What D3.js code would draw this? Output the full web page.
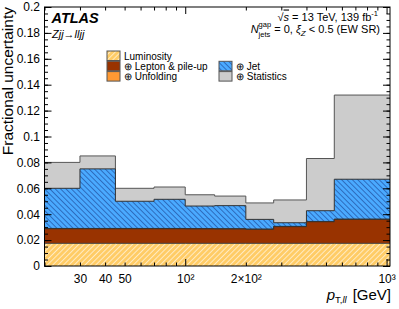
<!DOCTYPE html>
<html>
<head>
<meta charset="utf-8">
<script src="https://cdn.jsdelivr.net/npm/d3@7"></script>
<style>
  body { margin: 0; background: #fff; }
  svg { display: block; font-family: "Liberation Sans", Arial, sans-serif; }
  text { white-space: pre; }
</style>
</head>
<body>
<div id="chart"></div>
<script>
// bin edges in pT,ll [GeV]
const binEdges = [20, 30, 45, 70, 100, 140, 200, 275, 400, 550, 1040];

// cumulative (quadrature-summed) fractional uncertainty per bin
const luminosity = [0.0175, 0.0175, 0.0175, 0.0175, 0.0175, 0.0175, 0.0175, 0.0175, 0.0175, 0.0175];
const leptonPileup = [0.0288, 0.0288, 0.0288, 0.0288, 0.0287, 0.0286, 0.0283, 0.0304, 0.0342, 0.0360];
const unfolding = [0.0290, 0.0290, 0.0290, 0.0290, 0.0289, 0.0288, 0.0285, 0.0306, 0.0344, 0.0362];
const jet = [0.060, 0.075, 0.050, 0.0515, 0.0463, 0.0466, 0.036, 0.0334, 0.0427, 0.067];
const statistics = [0.080, 0.085, 0.060, 0.061, 0.055, 0.054, 0.0487, 0.051, 0.083, 0.132];

const yTicks = [0, 0.02, 0.04, 0.06, 0.08, 0.1, 0.12, 0.14, 0.16, 0.18, 0.2];
const yTickLabels = ["0", "0.02", "0.04", "0.06", "0.08", "0.1", "0.12", "0.14", "0.16", "0.18", "0.2"];
const xTicks = [30, 40, 50, 100, 200, 1000];
const xTickLabels = ["30", "40", "50", "10\u00B2", "2\u00D710\u00B2", "10\u00B3"];

const width = 399;
const height = 309;
const margin = { top: 7, right: 9, bottom: 43, left: 44.5 };

const svg = d3.select('#chart')
    .append('svg')
    .attr('width', width)
    .attr('height', height);

const defs = svg.append('defs');

// hatch patterns
const lumiPat = defs.append('pattern')
    .attr('id', 'lumiHatch')
    .attr('patternUnits', 'userSpaceOnUse')
    .attr('width', 3.8).attr('height', 3.8)
    .attr('patternTransform', 'rotate(45)');
lumiPat.append('rect').attr('width', 3.8).attr('height', 3.8).attr('fill', '#ffcc66');
lumiPat.append('line').attr('x1', 0.5).attr('y1', 0).attr('x2', 0.5).attr('y2', 3.8)
    .attr('stroke', '#fff').attr('stroke-width', 0.8).attr('stroke-opacity', 0.75);

const jetPat = defs.append('pattern')
    .attr('id', 'jetHatch')
    .attr('patternUnits', 'userSpaceOnUse')
    .attr('width', 3.8).attr('height', 3.8)
    .attr('patternTransform', 'rotate(-45)');
jetPat.append('rect').attr('width', 3.8).attr('height', 3.8).attr('fill', '#4aaaff');
jetPat.append('line').attr('x1', 0.5).attr('y1', 0).attr('x2', 0.5).attr('y2', 3.8)
    .attr('stroke', '#2458a8').attr('stroke-width', 0.75);

const scaleX = d3.scaleLog()
    .domain([binEdges[0], binEdges[binEdges.length - 1]])
    .range([margin.left, width - margin.right]);

const scaleY = d3.scaleLinear()
    .domain([0, 0.2])
    .range([height - margin.bottom, margin.top]);

function stepPoints(values) {
    const pts = values.map((v, i) => ({ x: binEdges[i], y: v }));
    pts.push({ x: binEdges[binEdges.length - 1], y: values[values.length - 1] });
    return pts;
}

const areaMaker = d3.area()
    .x(d => scaleX(d.x))
    .y0(scaleY(0))
    .y1(d => scaleY(d.y))
    .curve(d3.curveStepAfter);

const lineMaker = d3.line()
    .x(d => scaleX(d.x))
    .y(d => scaleY(d.y))
    .curve(d3.curveStepAfter);

const series = [
    { name: 'statistics', values: statistics, fill: '#cccccc', stroke: '#555555' },
    { name: 'jet', values: jet, fill: 'url(#jetHatch)', stroke: '#333333' },
    { name: 'unfolding', values: unfolding, fill: '#ff9933', stroke: '#333333' },
    { name: 'lepton', values: leptonPileup, fill: '#993300', stroke: '#333333' },
    { name: 'luminosity', values: luminosity, fill: 'url(#lumiHatch)', stroke: '#444444' }
];

const histGroup = svg.append('g').attr('id', 'histGroup');

series.forEach(s => {
    const pts = stepPoints(s.values);
    histGroup.append('path')
        .attr('d', areaMaker(pts))
        .attr('fill', s.fill);
    histGroup.append('path')
        .attr('d', lineMaker(pts))
        .attr('fill', 'none')
        .attr('stroke', s.stroke)
        .attr('stroke-width', 1);
});

// axes (ROOT style: ticks inside, mirrored)
const plotW = width - margin.left - margin.right;
const plotH = height - margin.top - margin.bottom;
const minorY = d3.range(0, 0.2001, 0.005);
const minorX = [20, 30, 40, 50, 60, 70, 80, 90, 200, 300, 400, 500, 600, 700, 800, 900];

function axisStyle(g) {
    g.select('.domain').remove();
    g.selectAll('line').attr('stroke', '#000');
}

svg.append('g')
    .attr('transform', `translate(${margin.left},0)`)
    .call(d3.axisLeft(scaleY).tickValues(minorY).tickSize(-3.5).tickFormat(''))
    .call(axisStyle);

svg.append('g')
    .attr('transform', `translate(${margin.left},0)`)
    .call(d3.axisLeft(scaleY).tickValues(yTicks).tickSize(-7).tickPadding(4.5)
        .tickFormat((d, i) => yTickLabels[i]))
    .call(axisStyle)
    .selectAll('text')
    .style('font-size', '12px')
    .attr('fill', '#000');

svg.append('g')
    .attr('transform', `translate(${width - margin.right},0)`)
    .call(d3.axisRight(scaleY).tickValues(minorY).tickSize(-3.5).tickFormat(''))
    .call(axisStyle);

svg.append('g')
    .attr('transform', `translate(${width - margin.right},0)`)
    .call(d3.axisRight(scaleY).tickValues(yTicks).tickSize(-7).tickFormat(''))
    .call(axisStyle);

svg.append('g')
    .attr('transform', `translate(0,${height - margin.bottom})`)
    .call(d3.axisBottom(scaleX).tickValues(minorX).tickSize(-3.5).tickFormat(''))
    .call(axisStyle);

svg.append('g')
    .attr('transform', `translate(0,${height - margin.bottom})`)
    .call(d3.axisBottom(scaleX).tickValues([100, 1000]).tickSize(-7).tickFormat(''))
    .call(axisStyle);

svg.append('g')
    .attr('transform', `translate(0,${height - margin.bottom})`)
    .call(d3.axisBottom(scaleX).tickValues(xTicks).tickSize(0).tickPadding(8.5)
        .tickFormat((d, i) => xTickLabels[i]))
    .call(axisStyle)
    .selectAll('text')
    .style('font-size', '12px')
    .attr('fill', '#000');

svg.append('g')
    .attr('transform', `translate(0,${margin.top})`)
    .call(d3.axisTop(scaleX).tickValues(minorX).tickSize(-3.5).tickFormat(''))
    .call(axisStyle);

svg.append('g')
    .attr('transform', `translate(0,${margin.top})`)
    .call(d3.axisTop(scaleX).tickValues([100, 1000]).tickSize(-7).tickFormat(''))
    .call(axisStyle);

// frame
svg.append('rect')
    .attr('x', margin.left).attr('y', margin.top)
    .attr('width', plotW).attr('height', plotH)
    .attr('fill', 'none').attr('stroke', '#000').attr('stroke-width', 1);

// axis titles
svg.append('text')
    .attr('transform', `translate(12.5,${margin.top}) rotate(-90)`)
    .attr('text-anchor', 'end')
    .style('font-size', '15.5px')
    .text('Fractional uncertainty');

// rich text helper: parts placed one after another, measured
function richText(x, y, parts, anchor) {
    const g = svg.append('g');
    let cx = 0;
    let stackW = 0;
    parts.forEach(p => {
        const t = g.append('text')
            .attr('x', cx).attr('y', p.dy || 0)
            .style('font-size', p.size + 'px')
            .style('font-style', p.italic ? 'italic' : 'normal')
            .style('font-weight', p.bold ? 'bold' : 'normal')
            .text(p.t);
        if (p.overline) t.style('text-decoration', 'overline');
        const w = t.node().getComputedTextLength();
        if (p.stack) {
            stackW = w;
        } else {
            cx += Math.max(w, stackW) + (p.gap || 0);
            stackW = 0;
        }
    });
    const shift = anchor === 'end' ? x - cx : x;
    g.attr('transform', `translate(${shift},${y})`);
    return g;
}

richText(width - margin.right + 1, 300, [
    { t: 'p', size: 15, italic: true },
    { t: 'T,', size: 9.5, dy: 3 },
    { t: 'll', size: 9.5, dy: 3, italic: true, gap: 6 },
    { t: '[GeV]', size: 15 }
], 'end');

// labels
richText(51.5, 23.3, [{ t: 'ATLAS', size: 14.5, italic: true, bold: true }]);
richText(52, 37.5, [
    { t: 'Zjj', size: 11, italic: true },
    { t: '\u2192', size: 11 },
    { t: 'lljj', size: 11, italic: true }
]);

richText(378, 20.5, [
    { t: '\u221A', size: 11 },
    { t: 's', size: 11, italic: true, overline: true },
    { t: ' = 13 TeV, 139 fb', size: 11 },
    { t: '-1', size: 7.5, dy: -4.5 }
], 'end');

richText(380, 33.3, [
    { t: 'N', size: 11, italic: true },
    { t: 'gap', size: 7.5, dy: -6.2, stack: true },
    { t: 'jets', size: 7.5, dy: 3.4 },
    { t: ' = 0, ', size: 11 },
    { t: '\u03BE', size: 11, italic: true },
    { t: 'Z', size: 8, dy: 2.8, italic: true },
    { t: ' < 0.5 (EW SR)', size: 11 }
], 'end');

// legend
const legendItems = [
    { label: 'Luminosity', fill: 'url(#lumiHatch)', x: 107, y: 51 },
    { label: '\u2295 Lepton & pile-up', fill: '#993300', x: 107, y: 61.3 },
    { label: '\u2295 Unfolding', fill: '#ff9933', x: 107, y: 71.6 },
    { label: '\u2295 Jet', fill: 'url(#jetHatch)', x: 219, y: 61.3 },
    { label: '\u2295 Statistics', fill: '#cccccc', x: 219, y: 71.6 }
];

const legend = svg.append('g').attr('id', 'legend');
legendItems.forEach(d => {
    legend.append('rect')
        .attr('x', d.x).attr('y', d.y)
        .attr('width', 13).attr('height', 9.5)
        .attr('fill', d.fill)
        .attr('stroke', '#555').attr('stroke-width', 1);
    legend.append('text')
        .attr('x', d.x + 17).attr('y', d.y + 8.5)
        .style('font-size', '10px')
        .text(d.label);
});
</script>
</body>
</html>
